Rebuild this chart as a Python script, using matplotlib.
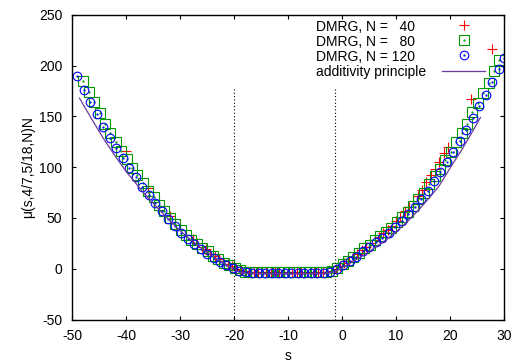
import matplotlib
matplotlib.use("Agg")
import matplotlib.pyplot as plt

plt.rcParams['font.family'] = ['Liberation Sans', 'DejaVu Sans']
plt.rcParams['font.size'] = 10
plt.rcParams['axes.unicode_minus'] = False

# N = 120 (blue circles)
s_120 = [-49.0, -47.8, -46.6, -45.4, -44.2, -43.0, -41.8, -40.6, -39.4, -38.2,
         -37.0, -35.8, -34.6, -33.4, -32.2, -31.0, -29.8, -28.6, -27.4, -26.2,
         -25.0, -23.8, -22.6, -21.4, -20.2, -19.0, -17.8, -16.6, -15.4, -14.2,
         -13.0, -11.8, -10.6, -9.4, -8.2, -7.0, -5.8, -4.6, -3.4, -2.2,
         -1.0, 0.2, 1.4, 2.6, 3.8, 5.0, 6.2, 7.4, 8.6, 9.8,
         11.0, 12.2, 13.4, 14.6, 15.8, 17.0, 18.2, 19.4, 20.6, 21.8,
         23.0, 24.2, 25.4, 26.6, 27.8, 29.0, 29.9]
mu_120 = [190, 176, 164, 152, 140, 129, 119, 109, 99, 90,
          81, 73, 65, 57, 49, 42, 35, 29, 24, 19,
          15, 11, 7, 4, 1, -2, -3, -4, -4, -4,
          -4, -4, -4, -4, -4, -4, -4, -4, -4, -3,
          0, 4, 8, 12, 17, 21, 26, 30, 35, 41,
          47, 54, 61, 69, 77, 86, 95, 105, 115, 126,
          137, 149, 160, 171, 184, 197, 208]

# N = 80 (green squares)
s_80 = [-47.9, -46.9, -45.9, -44.9, -43.9, -42.9, -41.9, -40.9, -39.9, -38.9,
        -37.9, -36.9, -35.9, -34.9, -33.9, -32.9, -31.9, -30.9, -29.9, -28.9,
        -27.9, -26.9, -25.9, -24.9, -23.9, -22.9, -21.9, -20.9, -19.9, -18.9,
        -17.9, -16.9, -15.9, -14.9, -13.9, -12.9, -11.9, -10.9, -9.9, -8.9,
        -7.9, -6.9, -5.9, -4.9, -3.9, -2.9, -1.9, -0.9, 0.1, 1.1,
        2.1, 3.1, 4.1, 5.1, 6.1, 7.1, 8.1, 9.1, 10.1, 11.1,
        12.1, 13.1, 14.1, 15.1, 16.1, 17.1, 18.1, 19.1, 20.1, 21.1,
        22.1, 23.1, 24.1, 25.1, 26.1, 27.1, 28.1, 29.1]
mu_80 = [185, 174, 164, 153, 143, 134, 125, 116, 108, 99,
         92, 84, 77, 71, 63, 57, 50, 44, 38, 33,
         28, 24, 20, 17, 13, 10, 6, 4, 1, -1,
         -3, -3, -3, -3, -3, -3, -3, -3, -3, -3,
         -3, -3, -3, -3, -3, -3, -2, 1, 5, 8,
         12, 16, 20, 23, 28, 32, 36, 40, 46, 51,
         56, 62, 69, 75, 83, 91, 98, 107, 115, 125,
         134, 143, 154, 163, 173, 183, 195, 206]

# N = 40 (red plus)
s_40 = [-40.0, -35.9, -31.9, -27.6, -26.8, -26.0, -25.2, -24.4, -23.6, -22.8,
        -22.0, -21.2, -20.4, -19.6, -18.8, -18.0, -17.2, -16.4, -15.6, -14.8,
        -14.0, -13.2, -12.4, -11.6, -10.8, -10.0, -9.2, -8.4, -7.6, -6.8,
        -6.0, -5.2, -4.4, -3.6, -2.8, -2.0, -1.2, -0.4, 0.4, 1.2,
        2.0, 2.8, 3.6, 4.4, 5.2, 6.0, 6.8, 7.6, 8.4, 9.2,
        10.0, 10.8, 11.6, 12.4, 13.2, 14.0, 14.8, 15.6, 16.4, 17.2,
        18.0, 18.8, 19.6, 23.8, 27.7]
mu_40 = [116, 80, 52, 29, 25, 21, 19, 15, 13, 10,
         8, 5, 3, 0, -1, -2, -3, -3, -3, -3,
         -3, -3, -3, -3, -3, -3, -3, -3, -3, -3,
         -3, -3, -3, -3, -3, -2, 0, 3, 6, 8,
         12, 15, 18, 21, 25, 28, 31, 35, 38, 42,
         47, 51, 57, 61, 67, 72, 78, 85, 92, 98,
         105, 114, 120, 167, 216]

# additivity principle
s_add = [-48.6, -46.4, -44.2, -42.0, -40.0, -38.0, -36.2, -34.0, -32.0, -30.0,
         -28.0, -26.0, -24.0, -22.0, -20.0, -19.0, -18.0, -10.0, -3.0, -1.3,
         0.0, 2.0, 4.0, 6.0, 8.0, 10.0, 12.0, 14.0, 16.0, 18.0,
         20.3, 22.0, 24.0, 25.6]
mu_add = [168, 148, 128.5, 111, 96, 83, 71.5, 59, 48, 37.5,
          28.5, 20, 12.5, 6, -1, -3.5, -4.5, -5, -4.5, -3,
          1, 7, 13.5, 20.5, 28, 36.5, 46, 57, 69, 82,
          102, 116, 134, 149]

boundaries = [-20, -1.3]

labels = ['DMRG, N =   40', 'DMRG, N =   80', 'DMRG, N = 120', 'additivity principle']

fig = plt.figure(figsize=(5.14, 3.62), dpi=100)
ax = fig.add_axes([0.140, 0.1174, 0.841, 0.8412])

red_style = dict(ls='none', marker='+', ms=7, mew=0.8, color='#ff0000')
green_style = dict(ls='none', marker='s', ms=7, mew=0.8, mfc='none', mec='#009a00')
blue_style = dict(ls='none', marker='o', ms=6.2, mew=0.8, mfc='none', mec='#0000ff')
line_style = dict(color='#6d3a9c', lw=0.9)

ax.plot(s_40, mu_40, **red_style)
ax.plot(s_80, mu_80, **green_style)
ax.plot(s_80, mu_80, ls='none', marker='.', ms=1.2, color='#009a00')
ax.plot(s_120, mu_120, **blue_style)
ax.plot(s_120, mu_120, ls='none', marker='.', ms=1.2, color='#0000ff')
ax.plot(s_add, mu_add, **line_style)

ax.vlines(boundaries, -50, 178, colors='k', linestyles=(0, (1, 2)), lw=0.8)

ax.set_xlim(-50, 30)
ax.set_ylim(-50, 250)
ax.set_xticks(range(-50, 31, 10))
ax.set_yticks(range(-50, 251, 50))
ax.tick_params(direction='in', top=True, right=True, length=3.2, width=0.8)
ax.tick_params(axis='x', pad=7)
ax.tick_params(axis='y', pad=7)
for sp in ax.spines.values():
    sp.set_linewidth(1.0)

ax.set_xlabel('s', labelpad=4)
ax.set_ylabel('μ(s,4/7,5/18,N)N', labelpad=3)

# gnuplot-style key: texts left aligned, samples on the right
tx, mx, lx0, lx1 = 0.565, 0.907, 0.857, 0.956
ky, dy = 0.961, 0.0498
for i, lab in enumerate(labels):
    y = ky - i * dy
    ax.text(tx, y, lab, transform=ax.transAxes, ha='left', va='center')
styles = [red_style, green_style, blue_style]
for i, st in enumerate(styles):
    ax.plot([mx], [ky + 0.006 - i * dy], transform=ax.transAxes, clip_on=False, **st)
ax.plot([mx], [ky + 0.006 - dy], transform=ax.transAxes, ls='none', marker='.', ms=1.2, color='#009a00')
ax.plot([mx], [ky + 0.006 - 2 * dy], transform=ax.transAxes, ls='none', marker='.', ms=1.2, color='#0000ff')
ax.plot([lx0, lx1], [ky + 0.006 - 3 * dy] * 2, transform=ax.transAxes, **line_style)

plt.savefig('out.png', dpi=100)
